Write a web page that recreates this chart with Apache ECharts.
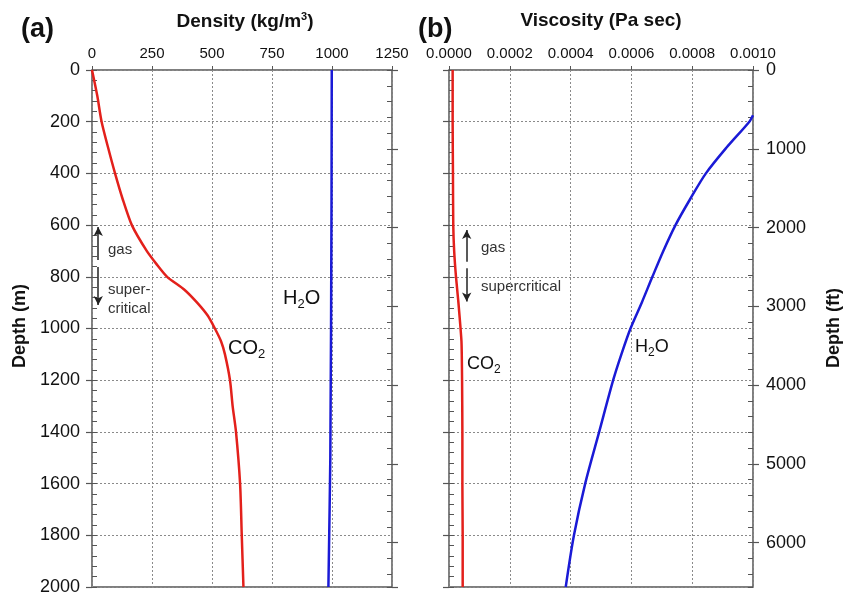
<!DOCTYPE html>
<html><head><meta charset="utf-8">
<script src="https://cdn.jsdelivr.net/npm/echarts@6/dist/echarts.min.js"></script>
<style>html,body{margin:0;padding:0;background:#fff}#c{width:853px;height:601px}</style>
</head><body><div id="c"></div>
<script>
// ---- data ----
const co2DensityDepth = [0,100,200,300,400,500,600,700,750,800,850,900,950,1000,1050,1100,1200,1300,1400,1600,1800,2000];
const co2Density      = [0,22,40,67,96,128,166,228,268,313,385,438,482,512,538,554,575,586,600,617,624,631];
const h2oDensityDepth = [0,500,1000,1500,1700,2000];
const h2oDensity      = [999,998,996,993,990,985];
const co2ViscDepth = [0,200,400,600,700,800,900,1000,1050,1100,1200,1400,1600,1800,2000];
const co2Visc      = [0.000012,0.000012,0.000013,0.000014,0.000017,0.000023,0.000031,0.000038,0.000041,0.000042,0.000043,0.000044,0.000044,0.000045,0.000045];
const h2oViscDepth = [175,200,300,400,500,600,700,800,900,1000,1100,1200,1400,1600,1800,2000];
const h2oVisc      = [0.001,0.000988,0.000913,0.000845,0.000793,0.000745,0.000705,0.000669,0.000634,0.000597,0.000567,0.000540,0.000494,0.000448,0.000411,0.000384];
const densityTicks = [0,250,500,750,1000,1250];
const viscTicks = [0,0.0002,0.0004,0.0006,0.0008,0.001];
const depthMTicks = [0,200,400,600,800,1000,1200,1400,1600,1800,2000];
const depthFtTicks = [0,1000,2000,3000,4000,5000,6000];
const depthMaxM = 2000;
const depthMaxFt = depthMaxM / 0.3048;

const FONT = '"Liberation Sans", Arial, Helvetica, sans-serif';
const AX = '#555';
const RED = '#e3201b';
const BLUE = '#1a1ad6';
const grid = (l, w) => ({left:l, top:70, width:w, height:517, show:true, borderColor:AX, borderWidth:1.5, backgroundColor:'transparent', containLabel:false, outerBoundsMode:'none'});
const split = {show:true, lineStyle:{color:'#8a8a8a', width:1, type:[2,2]}};

function yAx(gi, pos, max, interval, o) {
  return Object.assign({
    type:'value', gridIndex:gi, position:pos, inverse:true, min:0, max:max, interval:interval, offset:0,
    axisLine:{show:false, onZero:false}, splitLine:{show:false},
    axisTick:{show:true, inside:false, length:6, lineStyle:{color:AX, width:1.2}},
    axisLabel:{show:false}
  }, o || {});
}
// inward minor ticks
const minor = {axisTick:{show:true, inside:true, length:5, lineStyle:{color:AX, width:1}}};
const lab = {show:true, color:'#111', fontSize:18, fontFamily:FONT, margin:12, formatter:v=>String(v)};

const zip = (xs, ys) => xs.map((x, i) => [x, ys[i]]);

const option = {
  animation:false,
  backgroundColor:'#fff',
  grid:[grid(92,300), grid(449,304)],
  xAxis:[
    {type:'value', gridIndex:0, position:'top', min:densityTicks[0], max:densityTicks[densityTicks.length-1], interval:250,
     axisLine:{show:false, onZero:false}, axisTick:{show:true, length:4, lineStyle:{color:AX}},
     axisLabel:{color:'#111', fontSize:15, fontFamily:FONT, margin:9, formatter:v=>String(v)}, splitLine:split},
    {type:'value', gridIndex:1, position:'top', min:viscTicks[0], max:viscTicks[viscTicks.length-1], interval:0.0002,
     axisLine:{show:false, onZero:false}, axisTick:{show:true, length:4, lineStyle:{color:AX}},
     axisLabel:{color:'#111', fontSize:15, fontFamily:FONT, margin:9, formatter:v=>v.toFixed(4)}, splitLine:split}
  ],
  yAxis:[
    yAx(0,'left',depthMaxM,200,{axisLabel:lab, splitLine:split}),
    yAx(0,'left',depthMaxM,40,minor),
    yAx(0,'right',depthMaxFt,1000),
    yAx(0,'right',depthMaxFt,200,minor),
    yAx(1,'left',depthMaxM,200,{splitLine:split}),
    yAx(1,'left',depthMaxM,40,minor),
    yAx(1,'right',depthMaxFt,1000,{axisLabel:Object.assign({}, lab, {margin:13, showMaxLabel:false, formatter:v=>(v % 1000 === 0 ? String(v) : '')})}),
    yAx(1,'right',depthMaxFt,200,minor)
  ],
  series:[
    {type:'line', xAxisIndex:0, yAxisIndex:0, data:zip(co2Density, co2DensityDepth), showSymbol:false, smooth:0.25, lineStyle:{color:RED, width:2.5}, itemStyle:{color:RED},
     markLine:{silent:true, symbol:['none','arrow'], symbolSize:[7,9], label:{show:false}, lineStyle:{color:'#222', width:1.5, type:'solid'},
       data:[[{coord:[26,735]},{coord:[26,607]}],[{coord:[26,762]},{coord:[26,909]}]]}},
    {type:'line', xAxisIndex:0, yAxisIndex:0, data:zip(h2oDensity, h2oDensityDepth), showSymbol:false, lineStyle:{color:BLUE, width:2.5}, itemStyle:{color:BLUE}},
    {type:'line', xAxisIndex:1, yAxisIndex:4, data:zip(co2Visc, co2ViscDepth), showSymbol:false, smooth:0.2, lineStyle:{color:RED, width:2.5}, itemStyle:{color:RED},
     markLine:{silent:true, symbol:['none','arrow'], symbolSize:[7,9], label:{show:false}, lineStyle:{color:'#222', width:1.5, type:'solid'},
       data:[[{coord:[0.0000582,742]},{coord:[0.0000582,619]}],[{coord:[0.0000582,767]},{coord:[0.0000582,896]}]]}},
    {type:'line', xAxisIndex:1, yAxisIndex:4, data:zip(h2oVisc, h2oViscDepth), showSymbol:false, smooth:0.3, lineStyle:{color:BLUE, width:2.5}, itemStyle:{color:BLUE}}
  ],
  graphic:[]
};

function txt(x, y, text, font, fill, align) {
  return {type:'text', silent:true, x:x, y:y, style:{text:text, font:font, fill:fill || '#111', align:align || 'left', verticalAlign:'middle'}};
}
function rich(x, y, main, sub, size, subSize) {
  return {type:'text', silent:true, x:x, y:y, style:{
    text:'{m|' + main[0] + '}{s|' + sub + '}{m|' + main[1] + '}',
    align:'left', verticalAlign:'middle', fill:'#111',
    rich:{m:{fontSize:size, fontFamily:FONT, lineHeight:size+6, fill:'#111'}, s:{fontSize:subSize, fontFamily:FONT, lineHeight:subSize, verticalAlign:'bottom', fill:'#111'}}
  }};
}
const G = option.graphic;
G.push(txt(21, 30, '(a)', 'bold 27px ' + FONT));
G.push(txt(418, 30, '(b)', 'bold 27px ' + FONT));
G.push({type:'text', silent:true, x:245, y:22, style:{text:'{b|Density (kg/m}{p|3}{b|)}', align:'center', verticalAlign:'middle',
  rich:{b:{fontSize:19, fontWeight:'bold', fontFamily:FONT, lineHeight:22, fill:'#111'}, p:{fontSize:11, fontWeight:'bold', fontFamily:FONT, lineHeight:11, verticalAlign:'top', fill:'#111'}}}});
G.push(txt(601, 21, 'Viscosity (Pa sec)', 'bold 19px ' + FONT, '#111', 'center'));
G.push({type:'text', silent:true, x:20, y:326, rotation:Math.PI/2, style:{text:'Depth (m)', font:'bold 18px ' + FONT, fill:'#111', align:'center', verticalAlign:'middle'}});
G.push({type:'text', silent:true, x:834, y:328, rotation:Math.PI/2, style:{text:'Depth (ft)', font:'bold 18px ' + FONT, fill:'#111', align:'center', verticalAlign:'middle'}});
// annotations
const small = '15px ' + FONT;
G.push(txt(108, 250, 'gas', small, '#333'));
G.push(txt(108, 290, 'super-', small, '#333'));
G.push(txt(108, 309, 'critical', small, '#333'));
G.push(txt(481, 248, 'gas', small, '#333'));
G.push(txt(481, 287, 'supercritical', small, '#333'));
G.push(rich(283, 298, ['H','O'], '2', 20, 13));
G.push(rich(228, 348, ['CO',''], '2', 20, 13));
G.push(rich(467, 364, ['CO',''], '2', 18, 12));
G.push(rich(635, 347, ['H','O'], '2', 18, 12));

const chart = echarts.init(document.getElementById('c'), null, {renderer:'canvas'});
chart.setOption(option);
</script></body></html>
